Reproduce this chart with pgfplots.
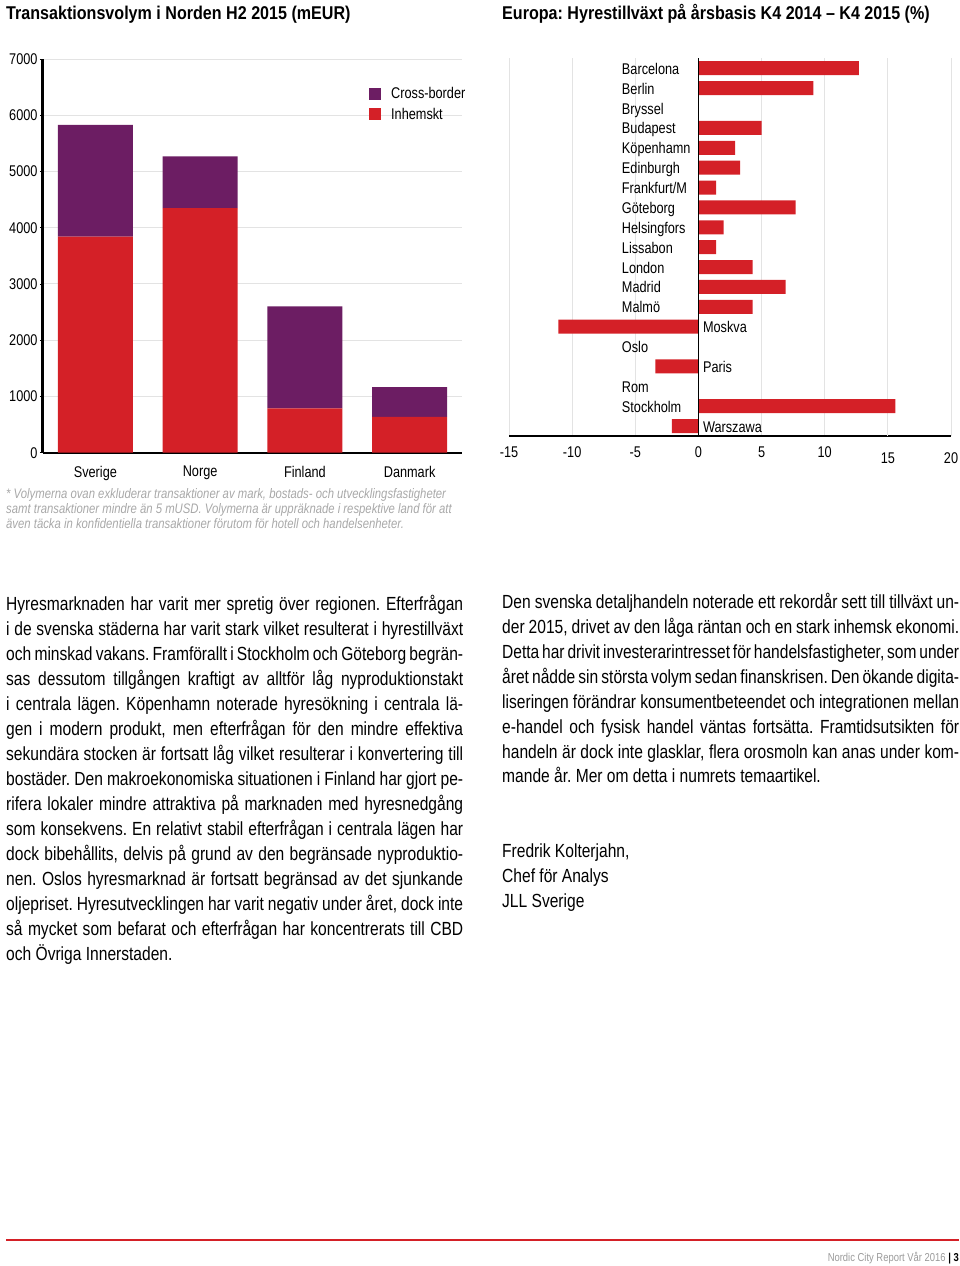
\documentclass[border=0pt]{standalone}
\usepackage{fontspec}
\setmainfont{Liberation Sans}[FakeStretch=0.82]
\newfontfamily\titlefont{Liberation Sans}[FakeStretch=0.87]
\usepackage{graphicx}
\usepackage{pgfplots}
\pgfplotsset{compat=1.18}
\definecolor{jred}{HTML}{D42027}
\definecolor{jpurple}{HTML}{6C1D63}
\definecolor{gridc}{HTML}{E3E3E3}
\definecolor{note}{HTML}{A8A8A8}
\definecolor{foot}{HTML}{9A9A9A}

\newcommand\chartfont{\fontsize{15.5}{18}\selectfont}
\newcommand\bodyfont{\fontsize{19}{25}\selectfont}
% a justified line: spread to 457pt, squeezed only when it cannot fit
\newcommand\fitline[1]{%
  \hfuzz=\maxdimen \hbadness=10000
  \setbox0\hbox to 457pt{#1}%
  \ifnum\badness>10000
    \resizebox{457pt}{\height}{\spaceskip=\dimexpr\fontdimen2\font-\fontdimen4\font\relax #1}%
  \else\box0\fi}
\newcommand\jl[3]{\node[anchor=base west,inner sep=0pt,font=\bodyfont] at (#1,#2) {\fitline{#3}};}
\newcommand\rl[3]{\node[anchor=base west,inner sep=0pt,font=\bodyfont] at (#1,#2) {#3};}
\newcommand\fl[2]{\node[anchor=base west,inner sep=0pt,font=\fontsize{13.8}{15}\selectfont\itshape,text=note] at (6,#1) {#2};}
% city label: left of zero or right of zero
\newcommand\cityL[2]{\node[anchor=base west,inner sep=0pt,font=\chartfont,yshift=-6pt] at (axis cs:-6.07,#1) {#2};}
\newcommand\cityR[2]{\node[anchor=base west,inner sep=0pt,font=\chartfont,yshift=-6pt] at (axis cs:0.35,#1) {#2};}

\begin{document}
\frenchspacing
\begin{tikzpicture}
\useasboundingbox (0,0) rectangle (960pt,-1266pt);

% ---- left: transaction volume, stacked bars
\begin{axis}[
  at={(43pt,-452.7pt)}, anchor=south west,
  scale only axis, width=419pt, height=393.7pt,
  ybar stacked, bar width=75pt,
  xmin=-0.5, xmax=3.5, ymin=0, ymax=7000,
  xtick={0,1,2,3}, xticklabels={Sverige,Norge,Finland,Danmark},
  ytick={0,1000,...,7000},
  axis lines*=left,
  x axis line style={line width=2pt},
  y axis line style={line width=3pt},
  ymajorgrids, grid style={gridc,line width=1pt},
  tick label style={font=\chartfont},
  xticklabel style={yshift=-7pt},
  yticklabel style={xshift=1pt},
  /pgf/number format/1000 sep={},
  /pgf/number format/assume math mode=true,
  xtick style={draw=none},
  ytick style={black,line width=0.8pt}, tick align=outside, major tick length=3pt,
  reverse legend, legend cell align=left,
  legend image code/.code={\fill[#1] (0pt,-6pt) rectangle (12pt,6pt);},
  legend style={at={(0.778,0.934)}, anchor=north west, draw=none, fill=none,
    font=\chartfont, inner sep=0pt, row sep=4pt,
    /tikz/every odd column/.append style={column sep=8pt}},
]
\addplot[fill=jred, draw=none] coordinates {(0,3840) (1,4350) (2,790) (3,635)};
\addlegendentry{Inhemskt}
\addplot[fill=jpurple, draw=none] coordinates {(0,1990) (1,920) (2,1810) (3,530)};
\addlegendentry{Cross-border}
\draw[black,line width=2pt] (rel axis cs:0,0) -- (rel axis cs:1,0);
\end{axis}

% ---- right: rent growth by city
\begin{axis}[
  at={(509pt,-436pt)}, anchor=south west,
  scale only axis, width=442pt, height=377.7pt,
  xbar, bar width=14pt,
  xmin=-15, xmax=20, ymin=-0.5, ymax=18.5, y dir=reverse,
  xtick={-15,-10,...,10},
  extra x ticks={15,20},
  extra x tick style={grid=major, xticklabel style={yshift=-6pt}},
  xmajorgrids, grid style={gridc,line width=1pt},
  axis x line*=bottom, axis y line=none,
  x axis line style={line width=1.5pt},
  ytick=\empty, xtick style={draw=none},
  tick label style={font=\chartfont},
  xticklabel style={yshift=-7pt},
  /pgf/number format/assume math mode=true,
]
\addplot[fill=jred, draw=none] coordinates {
(12.7,0) (9.1,1) (0,2) (5.0,3) (2.9,4) (3.3,5) (1.4,6) (7.7,7) (2.0,8) (1.4,9)
(4.3,10) (6.9,11) (4.3,12) (-11.1,13) (0,14) (-3.4,15) (0,16) (15.6,17) (-2.1,18)};
\draw[black,line width=1.2pt] (axis cs:0,-0.5) -- (axis cs:0,18.5);
\cityL{0}{Barcelona}
\cityL{1}{Berlin}
\cityL{2}{Bryssel}
\cityL{3}{Budapest}
\cityL{4}{Köpenhamn}
\cityL{5}{Edinburgh}
\cityL{6}{Frankfurt/M}
\cityL{7}{Göteborg}
\cityL{8}{Helsingfors}
\cityL{9}{Lissabon}
\cityL{10}{London}
\cityL{11}{Madrid}
\cityL{12}{Malmö}
\cityR{13}{Moskva}
\cityL{14}{Oslo}
\cityR{15}{Paris}
\cityL{16}{Rom}
\cityL{17}{Stockholm}
\cityR{18}{Warszawa}
\end{axis}

\begin{scope}[x=1pt,y=-1pt]
\node[anchor=base west,inner sep=0pt,font=\titlefont\bfseries\fontsize{18.5}{20}\selectfont] at (6,19.5) {Transaktionsvolym i Norden H2 2015 (mEUR)};
\node[anchor=base west,inner sep=0pt,font=\titlefont\bfseries\fontsize{18.5}{20}\selectfont] at (502,19.5) {Europa: Hyrestillväxt på årsbasis K4 2014 – K4 2015 (\%)};

\fl{498}{* Volymerna ovan exkluderar transaktioner av mark, bostads- och utvecklingsfastigheter}
\fl{513}{samt transaktioner mindre än 5 mUSD. Volymerna är uppräknade i respektive land för att}
\fl{528}{även täcka in konfidentiella transaktioner förutom för hotell och handelsenheter.}

\jl{6}{610}{Hyresmarknaden har varit mer spretig över regionen. Efterfrågan}
\jl{6}{635}{i de svenska städerna har varit stark vilket resulterat i hyrestillväxt}
\jl{6}{660}{och minskad vakans. Framförallt i Stockholm och Göteborg begrän-}
\jl{6}{685}{sas dessutom tillgången kraftigt av alltför låg nyproduktionstakt}
\jl{6}{710}{i centrala lägen. Köpenhamn noterade hyresökning i centrala lä-}
\jl{6}{735}{gen i modern produkt, men efterfrågan för den mindre effektiva}
\jl{6}{760}{sekundära stocken är fortsatt låg vilket resulterar i konvertering till}
\jl{6}{785}{bostäder. Den makroekonomiska situationen i Finland har gjort pe-}
\jl{6}{810}{rifera lokaler mindre attraktiva på marknaden med hyresnedgång}
\jl{6}{835}{som konsekvens. En relativt stabil efterfrågan i centrala lägen har}
\jl{6}{860}{dock bibehållits, delvis på grund av den begränsade nyproduktio-}
\jl{6}{885}{nen. Oslos hyresmarknad är fortsatt begränsad av det sjunkande}
\jl{6}{910}{oljepriset. Hyresutvecklingen har varit negativ under året, dock inte}
\jl{6}{935}{så mycket som befarat och efterfrågan har koncentrerats till CBD}
\rl{6}{960}{och Övriga Innerstaden.}

\jl{502}{608}{Den svenska detaljhandeln noterade ett rekordår sett till tillväxt un-}
\jl{502}{633}{der 2015, drivet av den låga räntan och en stark inhemsk ekonomi.}
\jl{502}{658}{Detta har drivit investerarintresset för handelsfastigheter, som under}
\jl{502}{683}{året nådde sin största volym sedan finanskrisen. Den ökande digita-}
\jl{502}{708}{liseringen förändrar konsumentbeteendet och integrationen mellan}
\jl{502}{733}{e-handel och fysisk handel väntas fortsätta. Framtidsutsikten för}
\jl{502}{758}{handeln är dock inte glasklar, flera orosmoln kan anas under kom-}
\rl{502}{782}{mande år. Mer om detta i numrets temaartikel.}

\rl{502}{857}{Fredrik Kolterjahn,}
\rl{502}{882}{Chef för Analys}
\rl{502}{907}{JLL Sverige}

\draw[jred,line width=2pt] (6,1240) -- (959,1240);
\node[anchor=base east,inner sep=0pt,font=\fontsize{11.5}{13}\selectfont] at (959,1261)
  {\textcolor{foot}{Nordic City Report Vår 2016} \textbf{| 3}};
\end{scope}
\end{tikzpicture}
\end{document}
